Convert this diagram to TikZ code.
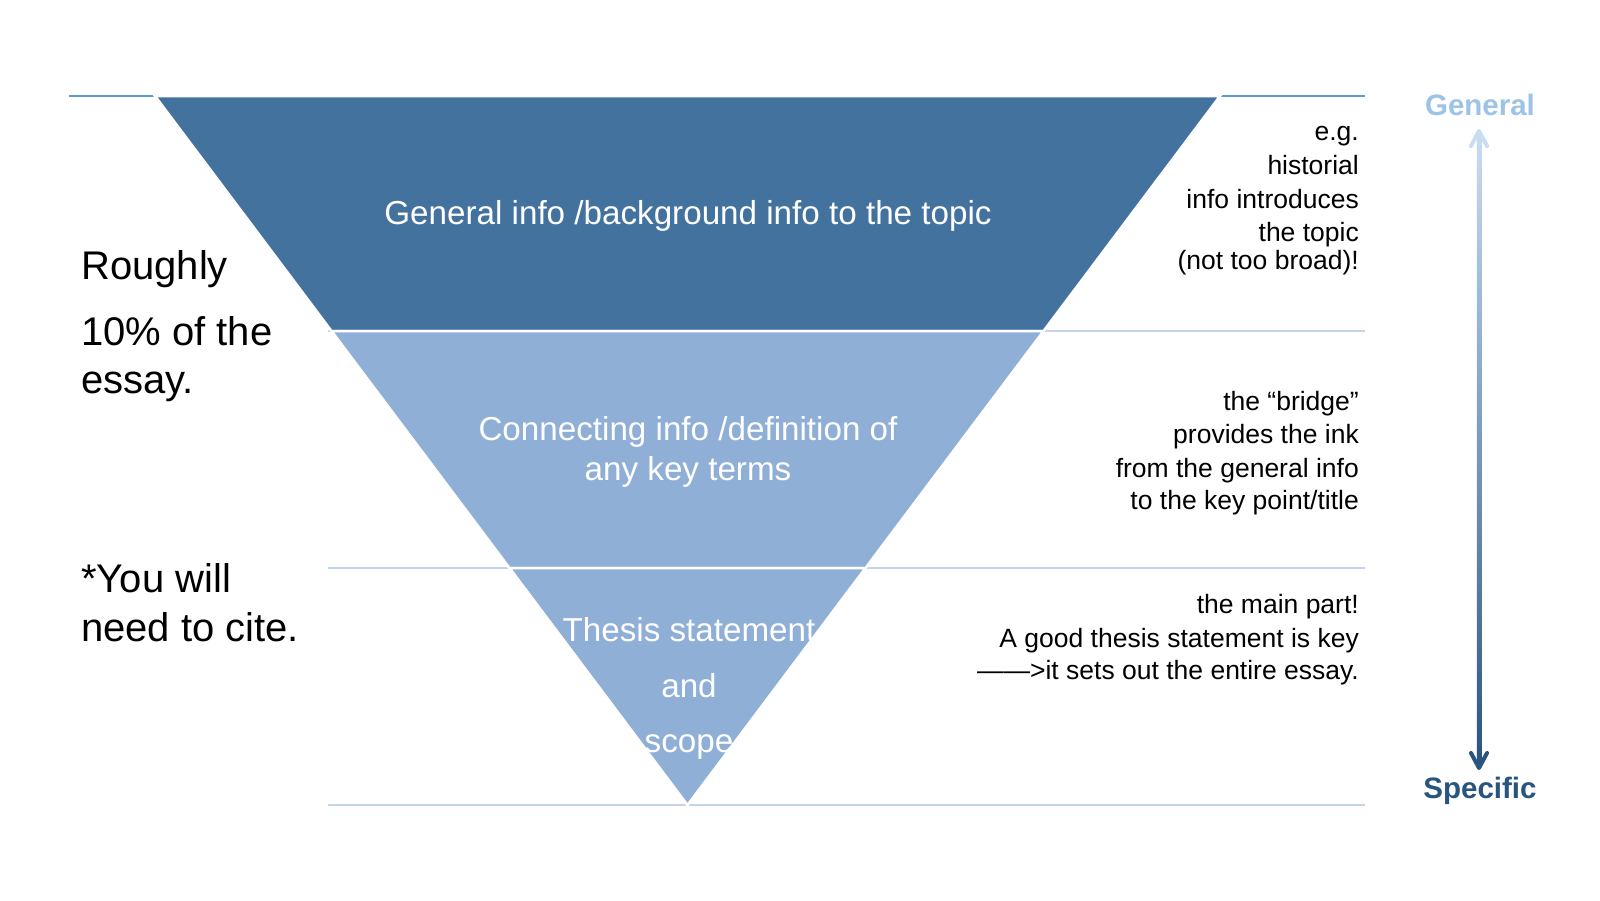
\documentclass[tikz,border=0pt]{standalone}
\usepackage{fontspec}
\setmainfont{Liberation Sans}
\definecolor{bandA}{HTML}{44729E}
\definecolor{bandB}{HTML}{8FAFD6}
\definecolor{topline}{HTML}{5B9BD5}
\definecolor{divline}{HTML}{C3D3EA}
\definecolor{genc}{HTML}{9DC3E6}
\definecolor{specc}{HTML}{285480}
\definecolor{arrtop}{HTML}{C9DDF1}
\definecolor{arrbot}{HTML}{285480}
\begin{document}
\begin{tikzpicture}[x=1pt,y=-1pt,
  bandtxt/.style={text=white,inner sep=0pt,anchor=base,font=\fontsize{33.2}{40}\selectfont},
  lefttxt/.style={inner sep=0pt,anchor=base west,font=\fontsize{40}{48}\selectfont},
  righttxt/.style={inner sep=0pt,anchor=base east,font=\fontsize{26.5}{33}\selectfont},
  endlbl/.style={inner sep=0pt,anchor=base,font=\bfseries\fontsize{29.5}{35}\selectfont},
  guide/.style={line width=2pt},
  band/.style={draw=white,line width=2.5pt,line join=miter},
  chev/.style={line width=4pt,line cap=round,line join=round}]
\fill[white] (0,0) rectangle (1600,900);
\useasboundingbox (0,0) rectangle (1600,900);
% guide lines
\draw[guide,topline] (69,96) -- (1365,96);
\draw[guide,divline] (328,331) -- (1365,331);
\draw[guide,divline] (328,568) -- (1365,568);
\draw[guide,divline] (328,805) -- (1365,805);
% funnel bands
\filldraw[band,fill=bandA] (155,96) -- (1220,96) -- (1043.5,331) -- (331.5,331) -- cycle;
\filldraw[band,fill=bandB] (331.5,331) -- (1043.5,331) -- (865.5,568) -- (509.5,568) -- cycle;
\filldraw[band,fill=bandB] (509.5,568) -- (865.5,568) -- (687.5,805) -- cycle;
% band texts
\node[bandtxt] (b1) at (688,224) {General info /background info to the topic};
\node[bandtxt] (b2a) at (688,440) {Connecting info /definition of};
\node[bandtxt] (b2b) at (688,480) {any key terms};
\node[bandtxt] (b3a) at (689,641) {Thesis statement};
\node[bandtxt] (b3b) at (689,697) {and};
\node[bandtxt] (b3c) at (689,752) {scope};
% left texts
\node[lefttxt] (l1) at (81,279) {Roughly};
\node[lefttxt] (l2) at (81,345) {10\% of the};
\node[lefttxt] (l3) at (81,393) {essay.};
\node[lefttxt] (l4) at (81,592) {*You will};
\node[lefttxt] (l5) at (81,641) {need to cite.};
% right texts
\node[righttxt] (r1) at (1359,140) {e.g.};
\node[righttxt] (r2) at (1359,174) {historial};
\node[righttxt] (r3) at (1359,208) {info introduces};
\node[righttxt] (r4) at (1359,241) {the topic};
\node[righttxt] (r5) at (1359,269) {(not too broad)!};
\node[righttxt] (s1) at (1359,410) {the “bridge”};
\node[righttxt] (s2) at (1359,443) {provides the ink};
\node[righttxt] (s3) at (1359,477) {from the general info};
\node[righttxt] (s4) at (1359,509) {to the key point/title};
\node[righttxt] (t1) at (1359,613) {the main part!};
\node[righttxt] (t2) at (1359,647) {A good thesis statement is key};
\node[righttxt] (t3) at (1359,679) {——>it sets out the entire essay.};
% general / specific scale
\node[endlbl,text=genc] (gen) at (1480,115) {General};
\node[endlbl,text=specc] (spec) at (1480,798) {Specific};
\coordinate (atop) at (1479,131);
\coordinate (abot) at (1479,768);
\shade[top color=arrtop,bottom color=arrbot] (1476.75,133) rectangle (1481.25,766);
\draw[chev,arrtop] (1471,146) -- (atop) -- (1487,146);
\draw[chev,arrbot] (1471,753) -- (abot) -- (1487,753);
\end{tikzpicture}
\end{document}
